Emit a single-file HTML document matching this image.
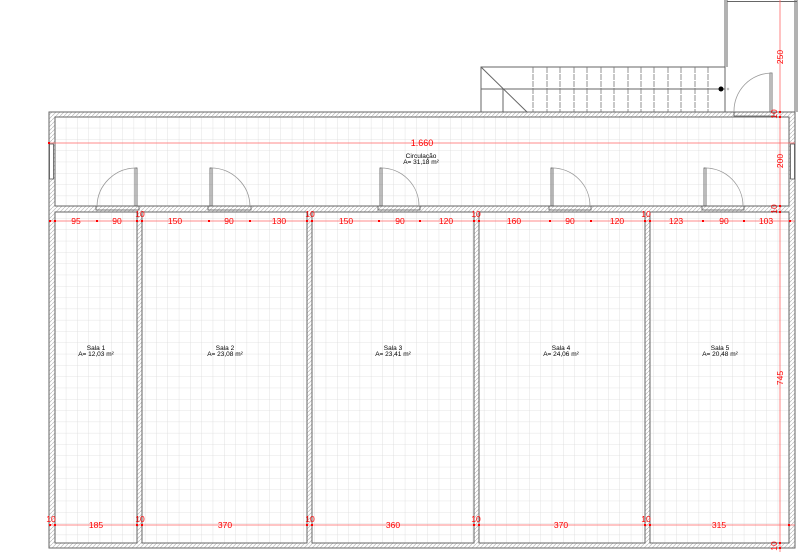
<!DOCTYPE html>
<html><head><meta charset="utf-8"><style>
html,body{margin:0;padding:0;background:#fff;}
svg{display:block;font-family:"Liberation Sans",sans-serif;}
.d{fill:#f00;font-size:8.5px;text-anchor:middle;}
.l{fill:#000;font-size:6.5px;text-anchor:middle;}
</style></head><body>
<svg width="798" height="552" viewBox="0 0 798 552" xmlns="http://www.w3.org/2000/svg">
<defs>
<pattern id="g" x="55" y="117" width="11.3" height="11.3" patternUnits="userSpaceOnUse">
<rect width="11.3" height="11.3" fill="#fff"/>
<path d="M11.3 0V11.3M0 11.3H11.3" stroke="#dcdcdc" stroke-width="0.8" fill="none"/>
</pattern>
<pattern id="h" width="4" height="4" patternUnits="userSpaceOnUse">
<rect width="4" height="4" fill="#fff"/>
<path d="M0 4L4 0" stroke="#bbb" stroke-width="0.7"/>
</pattern>
</defs>
<rect x="49" y="112" width="746" height="436" fill="url(#h)" stroke="#666" stroke-width="1"/>
<rect x="55" y="117" width="734" height="89" fill="url(#g)" stroke="#666" stroke-width="1"/>
<rect x="55" y="212" width="82" height="331" fill="url(#g)" stroke="#666" stroke-width="1"/>
<rect x="142" y="212" width="165" height="331" fill="url(#g)" stroke="#666" stroke-width="1"/>
<rect x="312" y="212" width="162" height="331" fill="url(#g)" stroke="#666" stroke-width="1"/>
<rect x="479" y="212" width="166" height="331" fill="url(#g)" stroke="#666" stroke-width="1"/>
<rect x="650" y="212" width="139" height="331" fill="url(#g)" stroke="#666" stroke-width="1"/>
<rect x="49.5" y="144" width="4" height="35" fill="#fff" stroke="#555" stroke-width="0.8"/>
<rect x="790.5" y="144" width="4" height="35" fill="#fff" stroke="#555" stroke-width="0.8"/>
<g stroke="#666" fill="none" stroke-width="1">
<path d="M725 0V67M727 0V67M727 1.5H797M795 0V112M797 0V112"/>
<rect x="481" y="67" width="244" height="45"/>
<path d="M481 67L527 112M503 89V112M481 89H725"/>
</g>
<g stroke="#777" stroke-width="0.8" stroke-dasharray="6,1">
<path d="M533 67V112M547 67V112M560 67V112M574 67V112M587 67V112M601 67V112M614 67V112M628 67V112M641 67V112M654 67V112M668 67V112M681 67V112M695 67V112M708 67V112"/>
</g>
<circle cx="721" cy="89" r="2.5" fill="#000"/>
<circle cx="728" cy="89" r="1" fill="none" stroke="#888" stroke-width="0.5"/>
<g stroke="#555" fill="none" stroke-width="0.8">
<rect x="770" y="73" width="2" height="39"/>
<path d="M734 112A38 38 0 0 1 772 73" stroke="#999"/>
<path d="M734 112V116H774V112"/>
</g>
<g stroke="#555" fill="none" stroke-width="0.8">
<g><rect x="135" y="168" width="2" height="38"/><path d="M97 206A39 39 0 0 1 136 168" stroke="#999"/><path d="M96 206V210H139V206"/></g>
<g><rect x="210" y="168" width="2" height="38"/><path d="M250 206A39 39 0 0 0 211 168" stroke="#999"/><path d="M208 206V210H251V206"/></g>
<g><rect x="380" y="168" width="2" height="38"/><path d="M419 206A38 38 0 0 0 381 168" stroke="#999"/><path d="M378 206V210H420V206"/></g>
<g><rect x="551" y="168" width="2" height="38"/><path d="M590 206A38 38 0 0 0 552 168" stroke="#999"/><path d="M549 206V210H591V206"/></g>
<g><rect x="704" y="168" width="2" height="38"/><path d="M743 206A38 38 0 0 0 705 168" stroke="#999"/><path d="M702 206V210H744V206"/></g>
</g>
<g stroke="#f66" stroke-width="0.8">
<path d="M49 143H795M49 221H795M49 525H795M780 0V552"/>
</g>
<g fill="#f00">
<rect x="48" y="142" width="2" height="2"/>
<rect x="49" y="220" width="2" height="2"/><rect x="54" y="220" width="2" height="2"/><rect x="96" y="220" width="2" height="2"/><rect x="136" y="220" width="2" height="2"/><rect x="141" y="220" width="2" height="2"/><rect x="208" y="220" width="2" height="2"/><rect x="249" y="220" width="2" height="2"/><rect x="306" y="220" width="2" height="2"/><rect x="311" y="220" width="2" height="2"/><rect x="378" y="220" width="2" height="2"/><rect x="419" y="220" width="2" height="2"/><rect x="473" y="220" width="2" height="2"/><rect x="478" y="220" width="2" height="2"/><rect x="549" y="220" width="2" height="2"/><rect x="590" y="220" width="2" height="2"/><rect x="644" y="220" width="2" height="2"/><rect x="649" y="220" width="2" height="2"/><rect x="702" y="220" width="2" height="2"/><rect x="743" y="220" width="2" height="2"/><rect x="789" y="220" width="2" height="2"/>
<rect x="49" y="524" width="2" height="2"/><rect x="54" y="524" width="2" height="2"/><rect x="136" y="524" width="2" height="2"/><rect x="141" y="524" width="2" height="2"/><rect x="306" y="524" width="2" height="2"/><rect x="311" y="524" width="2" height="2"/><rect x="473" y="524" width="2" height="2"/><rect x="478" y="524" width="2" height="2"/><rect x="644" y="524" width="2" height="2"/><rect x="649" y="524" width="2" height="2"/><rect x="788" y="524" width="2" height="2"/>
<rect x="779" y="111" width="2" height="2"/><rect x="779" y="116" width="2" height="2"/><rect x="779" y="205" width="2" height="2"/><rect x="779" y="211" width="2" height="2"/><rect x="779" y="542" width="2" height="2"/><rect x="779" y="547" width="2" height="2"/>
</g>
<g class="d">
<text x="422" y="146" style="font-size:9px">1.660</text>
<text x="76" y="224">95</text><text x="117" y="224">90</text><text x="140" y="217">10</text><text x="175" y="224">150</text><text x="229" y="224">90</text><text x="279" y="224">130</text><text x="310" y="217">10</text><text x="346" y="224">150</text><text x="400" y="224">90</text><text x="446" y="224">120</text><text x="476" y="217">10</text><text x="514" y="224">160</text><text x="570" y="224">90</text><text x="617" y="224">120</text><text x="646" y="217">10</text><text x="676" y="224">123</text><text x="724" y="224">90</text><text x="766" y="224">103</text>
<text x="51" y="522">10</text><text x="96" y="528">185</text><text x="140" y="522">10</text><text x="225" y="528">370</text><text x="310" y="522">10</text><text x="393" y="528">360</text><text x="476" y="522">10</text><text x="561" y="528">370</text><text x="646" y="522">10</text><text x="719" y="528">315</text>
<text transform="translate(783,57) rotate(-90)">250</text>
<text transform="translate(777,114) rotate(-90)">10</text>
<text transform="translate(783,161) rotate(-90)">200</text>
<text transform="translate(777,209) rotate(-90)">10</text>
<text transform="translate(783,378) rotate(-90)">745</text>
<text transform="translate(777,546) rotate(-90)">10</text>
</g>
<g class="l">
<text x="421" y="158">Circulação</text><text x="421" y="164">A= 31,18 m²</text>
<text x="96" y="350">Sala 1</text><text x="96" y="356">A= 12,03 m²</text>
<text x="225" y="350">Sala 2</text><text x="225" y="356">A= 23,08 m²</text>
<text x="393" y="350">Sala 3</text><text x="393" y="356">A= 23,41 m²</text>
<text x="561" y="350">Sala 4</text><text x="561" y="356">A= 24,06 m²</text>
<text x="720" y="350">Sala 5</text><text x="720" y="356">A= 20,48 m²</text>
</g>
</svg>
</body></html>
